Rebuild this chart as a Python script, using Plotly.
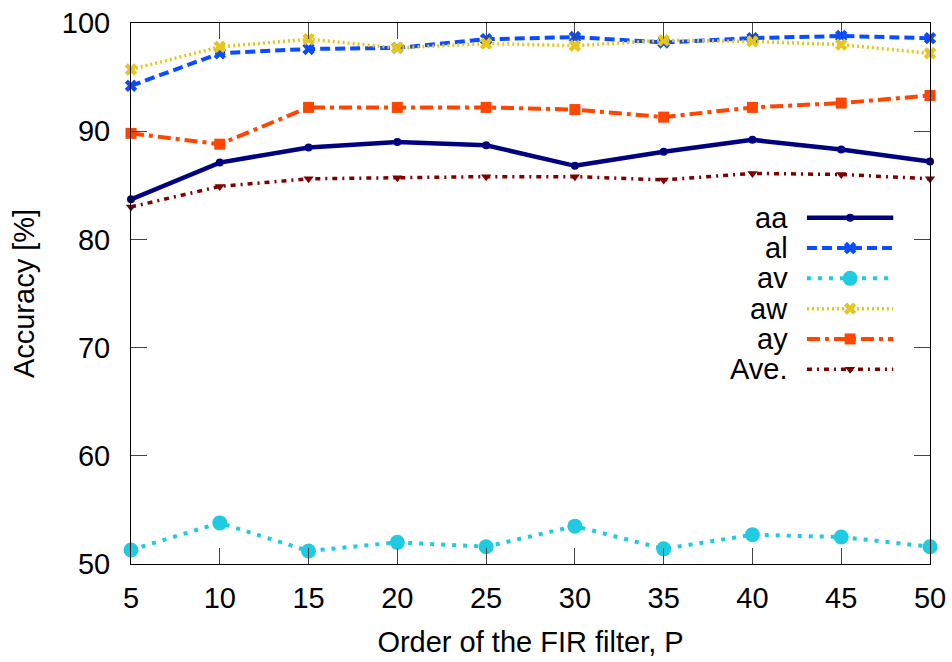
import plotly.graph_objects as go

# Filter order P
orders = [5, 10, 15, 20, 25, 30, 35, 40, 45, 50]

# Accuracy [%] per class and the average
acc_aa = [83.7, 87.1, 88.5, 89.0, 88.7, 86.8, 88.1, 89.2, 88.3, 87.2]
acc_al = [94.2, 97.2, 97.6, 97.7, 98.5, 98.7, 98.2, 98.6, 98.8, 98.6]
acc_av = [51.3, 53.8, 51.2, 52.0, 51.6, 53.5, 51.4, 52.7, 52.5, 51.6]
acc_aw = [95.7, 97.8, 98.5, 97.7, 98.1, 97.9, 98.4, 98.3, 98.0, 97.2]
acc_ay = [89.8, 88.8, 92.2, 92.2, 92.2, 92.0, 91.3, 92.2, 92.6, 93.3]
acc_ave = [83.0, 84.9, 85.6, 85.7, 85.8, 85.8, 85.5, 86.1, 86.0, 85.6]

x_ticks = [5, 10, 15, 20, 25, 30, 35, 40, 45, 50]
y_ticks = [50, 60, 70, 80, 90, 100]

FONT = "Liberation Sans, Arial, Helvetica, sans-serif"
FS = 29

series = [
    dict(name="aa", y=acc_aa, color="#000080", width=4.5, dash="solid",
         symbol="circle", size=8),
    dict(name="al", y=acc_al, color="#0a4cff", width=4, dash="10px,5px",
         symbol="x", size=11),
    dict(name="av", y=acc_av, color="#1ecbe1", width=4, dash="4px,7px",
         symbol="circle", size=15),
    dict(name="aw", y=acc_aw, color="#e6c51e", width=3.5, dash="2px,3px",
         symbol="x", size=11),
    dict(name="ay", y=acc_ay, color="#ff4500", width=4, dash="13px,5px,4px,5px",
         symbol="square", size=11),
    dict(name="Ave.", y=acc_ave, color="#800000", width=3.5, dash="5px,5px,2px,5px",
         symbol="triangle-down", size=9),
]

fig = go.Figure()

for s in series:
    fig.add_trace(go.Scatter(
        x=orders, y=s["y"], mode="lines+markers", name=s["name"],
        line=dict(color=s["color"], width=s["width"], dash=s["dash"]),
        marker=dict(color=s["color"], symbol=s["symbol"], size=s["size"],
                    line=dict(width=0)),
        showlegend=False, cliponaxis=False,
    ))

# Key: label on the left, line sample with a centred marker on the right
key_top = 0.640
key_step = 0.056
for i, s in enumerate(series):
    ky = key_top - i * key_step
    fig.add_trace(go.Scatter(
        x=[0.846, 0.954], y=[ky, ky], mode="lines", xaxis="x2", yaxis="y2",
        line=dict(color=s["color"], width=s["width"], dash=s["dash"]),
        showlegend=False, hoverinfo="skip",
    ))
    fig.add_trace(go.Scatter(
        x=[0.900], y=[ky], mode="markers", xaxis="x2", yaxis="y2",
        marker=dict(color=s["color"], symbol=s["symbol"], size=s["size"],
                    line=dict(width=0)),
        showlegend=False, hoverinfo="skip",
    ))
    fig.add_annotation(
        x=0.825, y=ky, xref="x2", yref="y2", text=s["name"], showarrow=False,
        xanchor="right", yanchor="middle", font=dict(family=FONT, size=FS, color="black"),
    )

axis_common = dict(
    showgrid=False, zeroline=False, showline=True, linecolor="black", linewidth=1,
    mirror="ticks", ticks="inside", ticklen=16, tickcolor="#444444", tickwidth=1,
    tickfont=dict(family=FONT, size=FS, color="black"), automargin=False,
)

fig.update_layout(
    width=952, height=662,
    margin=dict(l=131, r=22, t=23, b=98),
    paper_bgcolor="white", plot_bgcolor="white",
    font=dict(family=FONT, size=FS, color="black"),
    xaxis=dict(range=[5, 50], tickvals=x_ticks, ticktext=[str(v) for v in x_ticks],
               ticklabelstandoff=8,
               title=dict(text="Order of the FIR filter, P", standoff=18,
                          font=dict(family=FONT, size=FS)),
               **axis_common),
    yaxis=dict(range=[50, 100], tickvals=y_ticks, ticktext=[str(v) for v in y_ticks],
               ticklabelstandoff=14,
               title=dict(text="Accuracy [%]", standoff=18,
                          font=dict(family=FONT, size=FS)),
               **axis_common),
    xaxis2=dict(overlaying="x", range=[0, 1], visible=False, fixedrange=True),
    yaxis2=dict(overlaying="y", range=[0, 1], visible=False, fixedrange=True),
)

fig.write_html("out.html")
